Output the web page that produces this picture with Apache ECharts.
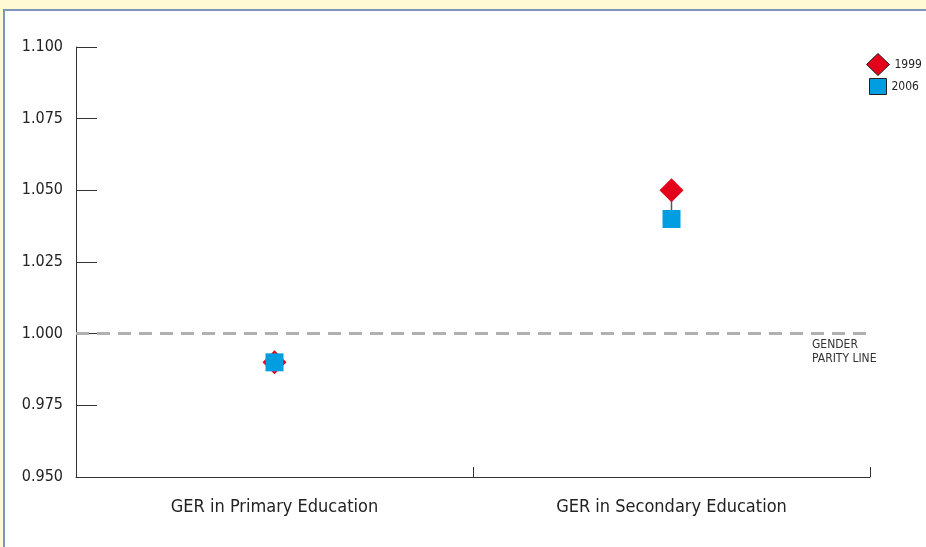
<!DOCTYPE html>
<html><head><meta charset="utf-8">
<script src="https://cdn.jsdelivr.net/npm/echarts@6/dist/echarts.min.js"></script>
<style>
html,body{margin:0;padding:0;background:#fffad4;width:926px;height:547px;overflow:hidden}
#panel{position:absolute;left:3px;top:9px;width:1000px;height:700px;background:#fff;border-left:2px solid #7c97b9;border-top:2px solid #7c97b9}
#c{position:absolute;left:0;top:0;width:926px;height:547px}
</style></head><body>
<div id="panel"></div>
<div id="c"></div>
<script>
const categories = ['GER in Primary Education', 'GER in Secondary Education'];
const values1999 = [0.990, 1.050];
const values2006 = [0.990, 1.040];
const yTicks = [0.950, 0.975, 1.000, 1.025, 1.050, 1.075, 1.100];
const parityValue = 1.000;
const parityLabel = ['GENDER', 'PARITY LINE'];

const FONT = '"DejaVu Sans Condensed","Liberation Sans Narrow",sans-serif';
const chart = echarts.init(document.getElementById('c'), null, {renderer:'canvas'});
chart.setOption({
  backgroundColor: 'transparent',
  animation: false,
  grid: {left: 76, right: 56, top: 47, bottom: 70},
  legend: [
    {orient:'vertical', left: 861, top: 48, itemWidth: 23, itemHeight: 22, data:[{name:'1999', icon:'diamond'}],
     itemStyle:{borderColor:'#222', borderWidth:1, opacity:1},
     textStyle:{fontFamily:FONT, fontSize:12, color:'#222'}, itemGap: 4},
    {orient:'vertical', left: 864, top: 73, itemWidth: 17, itemHeight: 16, data:[{name:'2006', icon:'rect'}],
     itemStyle:{borderColor:'#222', borderWidth:1, opacity:1},
     textStyle:{fontFamily:FONT, fontSize:12, color:'#222'}, itemGap: 4}
  ],
  xAxis: {
    type: 'category', data: categories, boundaryGap: true,
    axisLine: {show: true, lineStyle: {color: '#333', width: 1}},
    axisTick: {show: true, interval: 0, alignWithLabel: false, inside: true, length: 10, lineStyle: {color: '#333', width: 1}},
    axisLabel: {fontFamily: FONT, fontSize: 18, color: '#222', margin: 21}
  },
  yAxis: {
    type: 'value', min: yTicks[0], max: yTicks[yTicks.length-1], interval: 0.025,
    splitLine: {show: false},
    axisLine: {show: true, lineStyle: {color: '#333', width: 1}},
    axisTick: {show: true, inside: true, length: 21, lineStyle: {color: '#333'}},
    axisLabel: {fontFamily: FONT, fontSize: 16, color: '#222', margin: 13,
      formatter: v => v.toFixed(3)}
  },
  graphic: [{
    type: 'text', left: 812, top: 338, z: 10,
    style: {text: parityLabel.join('\n'), font: '12px ' + FONT, fill: '#333', lineHeight: 14}
  }],
  series: [
    {
      type: 'custom', name: 'link', z: 1, silent: true,
      data: categories.map((c, i) => [i, values1999[i], values2006[i]]),
      renderItem: (params, api) => {
        const a = api.coord([api.value(0), api.value(1)]);
        const b = api.coord([api.value(0), api.value(2)]);
        return {type: 'line', shape: {x1: a[0], y1: a[1], x2: b[0], y2: b[1]},
          style: {stroke: '#555', lineWidth: 1.5}};
      }
    },
    {
      type: 'scatter', name: '1999', symbol: 'diamond', symbolSize: 24, z: 2,
      data: values1999,
      itemStyle: {color: '#e2001a', opacity: 1, borderWidth: 0},
      markLine: {
        silent: true, symbol: ['none', 'none'], label: {show: false},
        lineStyle: {color: '#b0b0b0', width: 3, type: [13, 8], opacity: 1},
        data: [{yAxis: parityValue}]
      }
    },
    {
      type: 'scatter', name: '2006', symbol: 'rect', symbolSize: 18, z: 3,
      data: values2006,
      itemStyle: {color: '#009ee0', opacity: 1, borderWidth: 0}
    }
  ]
});
</script>
</body></html>
